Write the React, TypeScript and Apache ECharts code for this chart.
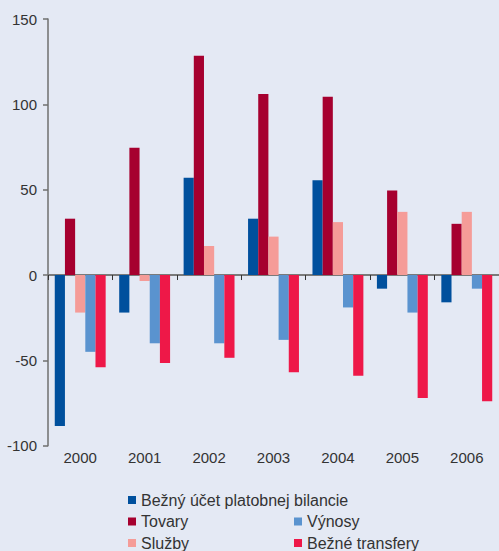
import React, { useEffect, useRef } from "react";
import * as echarts from "echarts";

// Years on the category axis
const years = ["2000", "2001", "2002", "2003", "2004", "2005", "2006"];

// Balance-of-payments components (bn)
const bezneUcet = [-88.5, -22, 57, 33, 55.5, -8, -16];
const tovary = [33, 74.5, 128.5, 106, 104.5, 49.5, 30];
const sluzby = [-22, -3.5, 17, 22.5, 31, 37, 37];
const vynosy = [-45, -40, -40, -38, -19, -22, -8];
const bezneTransfery = [-54, -51.5, -48.5, -57, -59, -72, -74];

const seriesNames = [
  "Bežný účet platobnej bilancie",
  "Tovary",
  "Služby",
  "Výnosy",
  "Bežné transfery",
];
const seriesData = [bezneUcet, tovary, sluzby, vynosy, bezneTransfery];
const seriesColors = ["#00509d", "#a6002f", "#f59c98", "#5a93cf", "#ee1848"];

const yTicks = { min: -100, max: 150, interval: 50 };

const FONT = "'Liberation Sans', Arial, sans-serif";
const AXIS_FONT_SIZE = 15;
const LEGEND_FONT_SIZE = 16;

export default function App() {
  const ref = useRef<HTMLDivElement>(null);

  useEffect(() => {
    if (!ref.current) return;
    const chart = echarts.init(ref.current, undefined, { renderer: "svg" });

    const legendText = {
      color: "#333",
      fontSize: LEGEND_FONT_SIZE,
      fontFamily: FONT,
      lineHeight: 16,
    };
    const legendBase = {
      orient: "vertical",
      itemWidth: 8,
      itemHeight: 8,
      itemGap: 5.5,
      icon: "rect",
      padding: 0,
      textStyle: legendText,
    };

    chart.setOption({
      animation: false,
      backgroundColor: "#e4e9f4",
      textStyle: { fontFamily: FONT },
      grid: { left: 48, top: 19, right: -6.3, bottom: 105.3, containLabel: false },
      legend: [
        {
          ...legendBase,
          left: 128,
          top: 492,
          data: [seriesNames[0], seriesNames[1], seriesNames[2]],
        },
        {
          ...legendBase,
          left: 294,
          top: 513.5,
          data: [seriesNames[3], seriesNames[4]],
        },
      ],
      xAxis: [
        {
          type: "category",
          data: years,
          axisLine: { onZero: true, lineStyle: { color: "#7a7a7a", width: 2 } },
          axisTick: { show: true, length: 5, lineStyle: { color: "#333", width: 1 } },
          axisLabel: { show: false },
          splitLine: { show: false },
          z: 1,
        },
        {
          type: "category",
          data: years,
          position: "bottom",
          axisLine: { show: false, onZero: false },
          axisTick: { show: false },
          axisLabel: { color: "#333", fontSize: AXIS_FONT_SIZE, fontFamily: FONT, margin: 4 },
        },
      ],
      yAxis: {
        type: "value",
        min: yTicks.min,
        max: yTicks.max,
        interval: yTicks.interval,
        axisLine: { show: true, lineStyle: { color: "#6f6f6f", width: 1.5 } },
        axisTick: { show: true, length: 5, lineStyle: { color: "#6f6f6f", width: 1.5 } },
        axisLabel: { color: "#333", fontSize: AXIS_FONT_SIZE, fontFamily: FONT, margin: 11 },
        splitLine: { show: false },
      },
      series: seriesNames.map((name, i) => ({
        name,
        type: "bar",
        xAxisIndex: 0,
        data: seriesData[i],
        barGap: "0%",
        barCategoryGap: "21%",
        itemStyle: { color: seriesColors[i] },
        z: 2,
      })),
    });

    return () => chart.dispose();
  }, []);

  return (
    <div
      ref={ref}
      style={{ position: "fixed", left: 0, top: 0, width: 499, height: 551 }}
    />
  );
}
